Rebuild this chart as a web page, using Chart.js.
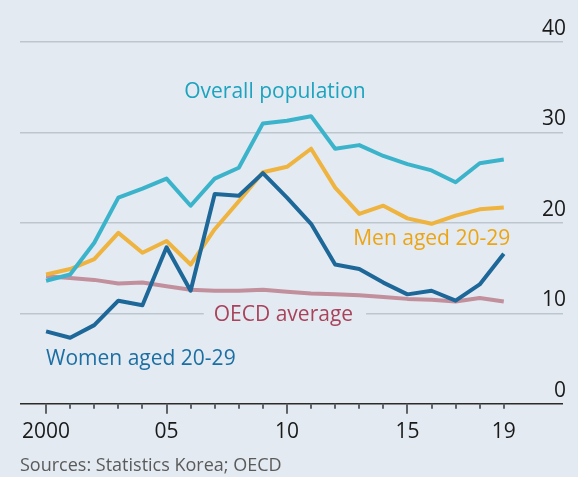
<!DOCTYPE html>
<html>
<head>
<meta charset="utf-8">
<script src="https://cdn.jsdelivr.net/npm/chart.js@4.4.1/dist/chart.umd.min.js"></script>
<style>
  html, body { margin: 0; padding: 0; background: #e3eaf1; }
  #wrap { position: relative; width: 578px; height: 477px; }
  #src { position: absolute; left: 20px; top: 455px; font: 18px/18px "Open Sans", sans-serif; color: #5a5a5a; white-space: nowrap; }
</style>
</head>
<body>
<div id="wrap">
  <canvas id="chart" width="578" height="477"></canvas>
  <div id="src">Sources: Statistics Korea; OECD</div>
</div>
<script>
// Jahre + Werte
const years = [2000, 2001, 2002, 2003, 2004, 2005, 2006, 2007, 2008, 2009,
               2010, 2011, 2012, 2013, 2014, 2015, 2016, 2017, 2018, 2019];
const overall = [13.6, 14.3, 17.8, 22.8, 23.8, 24.9, 21.9, 24.9, 26.1, 31.0,
                 31.3, 31.8, 28.2, 28.6, 27.4, 26.5, 25.8, 24.5, 26.6, 27.0];
const men = [14.3, 14.9, 16.0, 18.9, 16.7, 18.0, 15.4, 19.3, 22.4, 25.6,
             26.2, 28.2, 23.9, 21.0, 21.9, 20.5, 19.9, 20.8, 21.5, 21.7];
const women = [8.0, 7.3, 8.7, 11.4, 10.9, 17.3, 12.5, 23.2, 23.0, 25.5,
               22.8, 19.9, 15.4, 14.9, 13.4, 12.1, 12.5, 11.4, 13.2, 16.6];
const oecd = [14.1, 13.9, 13.7, 13.3, 13.4, 13.0, 12.6, 12.5, 12.5, 12.6,
              12.4, 12.2, 12.1, 12.0, 11.8, 11.6, 11.5, 11.3, 11.7, 11.3];

const yTicks = [0, 10, 20, 30, 40];
const xTickYears = [2000, 2005, 2010, 2015, 2019];
const xTickLabels = ['2000', '05', '10', '15', '19'];

const FONT = '"Open Sans", sans-serif';

// Beschriftungen an den Linien (Datenkoordinaten)
const seriesLabels = [
    { text: 'Overall population', x: 2009.5, y: 33.8, align: 'center', color: '#1ba3bf' },
    { text: 'Men aged 20-29', x: 2012.75, y: 17.55, align: 'left', color: '#eca514' },
    { text: 'OECD average', x: 2006.96, y: 9.1, align: 'left', color: '#a8435b', knockout: true },
    { text: 'Women aged 20-29', x: 2000, y: 4.33, align: 'left', color: '#1b6fa3' }
];

const toPoints = (vals) => vals.map((v, i) => ({ x: years[i], y: v }));

const labelPlugin = {
    id: 'seriesLabels',
    beforeDatasetsDraw(chart) {
        const { ctx, scales: { x, y } } = chart;
        ctx.save();
        ctx.font = '21px ' + FONT;
        seriesLabels.filter(l => l.knockout).forEach(l => {
            const w = ctx.measureText(l.text).width;
            const px = x.getPixelForValue(l.x);
            const py = y.getPixelForValue(l.y);
            ctx.fillStyle = '#e3eaf1';
            ctx.fillRect(px - 10, py - 20, w + 23, 26);
        });
        ctx.restore();
    },
    afterDatasetsDraw(chart) {
        const { ctx, scales: { x, y } } = chart;
        ctx.save();
        ctx.font = '21px ' + FONT;
        ctx.textBaseline = 'alphabetic';
        seriesLabels.forEach(l => {
            ctx.fillStyle = l.color;
            ctx.textAlign = l.align;
            ctx.fillText(l.text, x.getPixelForValue(l.x), y.getPixelForValue(l.y));
        });

        // Tick-Striche unter der Nulllinie
        const y0 = y.getPixelForValue(0);
        ctx.strokeStyle = '#5f6368';
        ctx.lineWidth = 2;
        years.forEach(yr => {
            const px = Math.round(x.getPixelForValue(yr));
            const len = (yr % 5 === 0) ? 10 : 5;
            ctx.beginPath();
            ctx.moveTo(px, y0);
            ctx.lineTo(px, y0 + len);
            ctx.stroke();
        });
        ctx.restore();
    }
};

const line = (label, vals, color, order) => ({
    label: label,
    data: toPoints(vals),
    borderColor: color,
    borderWidth: 4,
    pointRadius: 0,
    tension: 0,
    fill: false,
    borderJoinStyle: 'round',
    borderCapStyle: 'butt',
    order: order
});

new Chart(document.getElementById('chart'), {
    type: 'line',
    data: {
        datasets: [
            line('Women aged 20-29', women, '#1d6898', 0),
            line('Overall population', overall, '#3bb4cb', 1),
            line('Men aged 20-29', men, '#efb33f', 2),
            line('OECD average', oecd, '#c28f9c', 3)
        ]
    },
    plugins: [labelPlugin],
    options: {
        responsive: false,
        animation: false,
        layout: { padding: { left: 20, right: 9, top: 42, bottom: 16 } },
        plugins: { legend: { display: false }, tooltip: { enabled: false } },
        scales: {
            x: {
                type: 'linear',
                min: 1998.917,
                max: 2021.458,
                afterBuildTicks: (axis) => { axis.ticks = xTickYears.map(v => ({ value: v })); },
                grid: { display: false, drawTicks: false },
                border: { display: false },
                ticks: {
                    color: '#1a1a1a',
                    font: { family: FONT, size: 21 },
                    padding: 16,
                    maxRotation: 0,
                    autoSkip: false,
                    callback: (v) => xTickLabels[xTickYears.indexOf(v)]
                }
            },
            y: {
                position: 'right',
                min: 0,
                max: 40,
                afterBuildTicks: (axis) => { axis.ticks = yTicks.map(v => ({ value: v })); },
                grid: {
                    drawTicks: false,
                    color: (c) => c.tick && c.tick.value === 0 ? '#2b2b2b' : '#bdc6cf',
                    lineWidth: 1.5
                },
                border: { display: false },
                ticks: {
                    mirror: true,
                    padding: 3,
                    labelOffset: -13,
                    color: '#1a1a1a',
                    font: { family: FONT, size: 21 }
                }
            }
        }
    }
});
</script>
</body>
</html>
